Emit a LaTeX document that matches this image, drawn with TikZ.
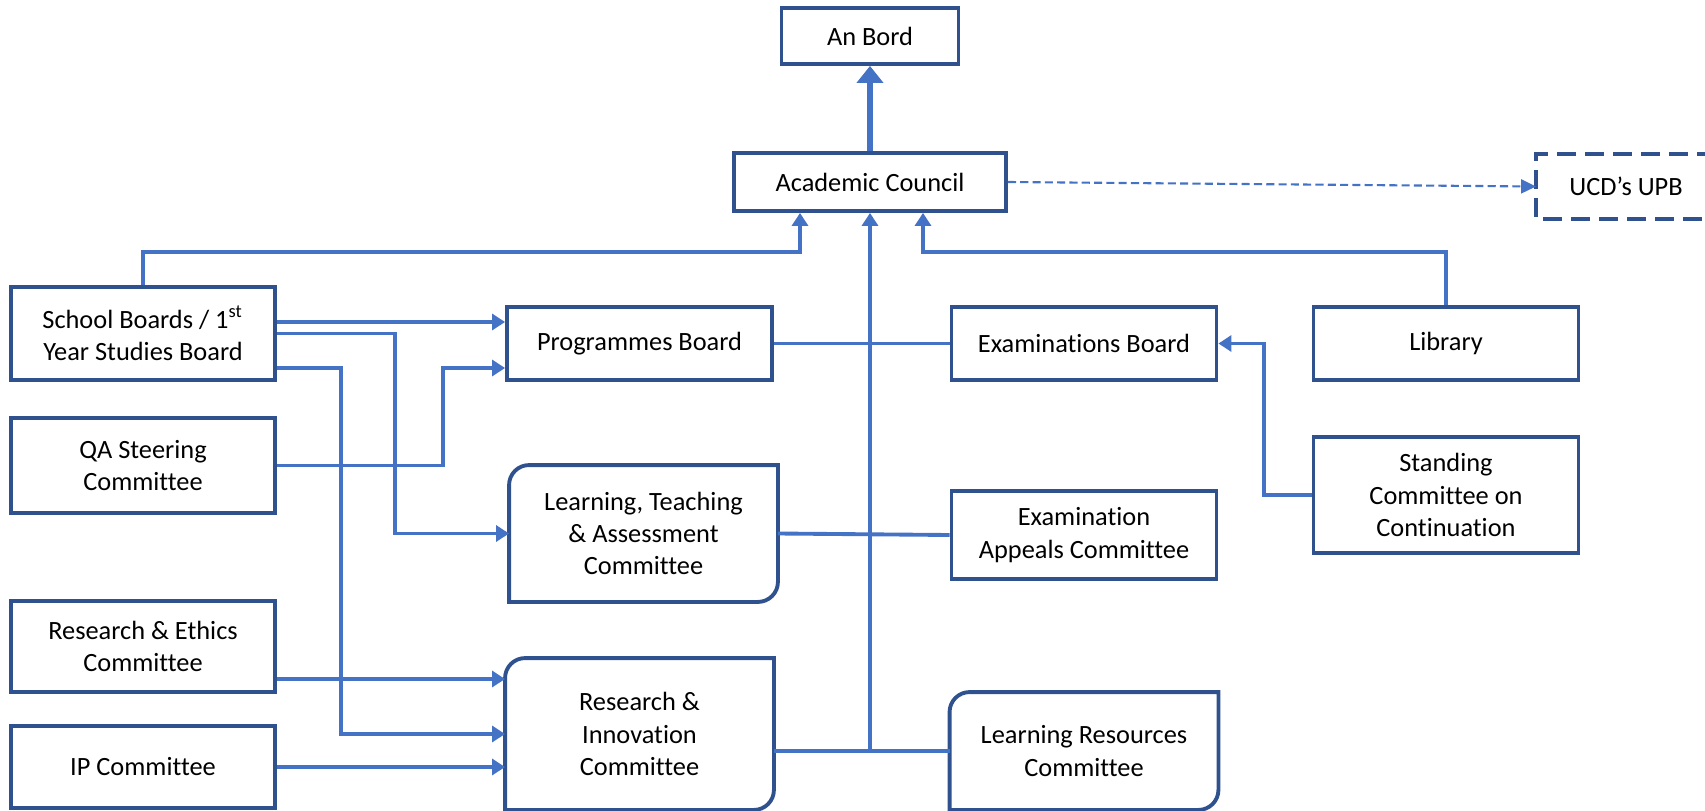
\documentclass[tikz,border=0pt]{standalone}
\usepackage{fontspec}
\setmainfont{Carlito}[Ligatures=NoCommon]
\usetikzlibrary{arrows.meta}

\definecolor{boxblue}{HTML}{2F528F}
\definecolor{linkblue}{HTML}{4472C4}

\newcommand{\cornerbox}[1]{%
  \draw[draw=boxblue, line width=1.1pt] (#1.north east) -- ([xshift=0.2cm]#1.north west)
    arc[start angle=90, end angle=180, radius=0.2cm] -- (#1.south west)
    -- ([xshift=-0.2cm]#1.south east) arc[start angle=270, end angle=360, radius=0.2cm] -- cycle;}

\begin{document}
\begin{tikzpicture}[
    unit/.style={draw=boxblue, line width=1.1pt, minimum width=2.65cm, inner sep=0pt,
      align=center, font=\fontsize{7.5}{9.2}\selectfont},
    leaf/.style={unit, draw=none},
    link/.style={draw=linkblue, line width=1.1pt},
    feed/.style={link, -{Triangle[length=0.13cm, width=0.16cm]}}
  ]
  \useasboundingbox (0,0) rectangle (17.05,8.1);

  \node[unit, minimum width=1.77cm, minimum height=0.56cm] (bord) at (8.70,7.74) {An Bord};
  \node[unit, minimum width=2.72cm, minimum height=0.58cm] (council) at (8.70,6.28) {Academic Council};
  \node[leaf, minimum width=1.76cm, minimum height=0.61cm] (upb) at (16.26,6.235) {UCD’s UPB};

  \node[unit, minimum width=2.64cm, minimum height=0.93cm] (school) at (1.43,4.765) {School Boards / 1\textsuperscript{st}\\Year Studies Board};
  \node[unit, minimum height=0.73cm] (prog) at (6.395,4.665) {Programmes Board};
  \node[unit, minimum height=0.73cm] (exam) at (10.84,4.665) {Examinations Board};
  \node[unit, minimum height=0.73cm] (library) at (14.46,4.665) {Library};

  \node[unit, minimum width=2.64cm, minimum height=0.95cm] (qa) at (1.43,3.445) {QA Steering\\Committee};
  \node[leaf, minimum height=1.33cm] (lta) at (6.435,2.765) {Learning, Teaching\\\& Assessment\\Committee};
  \node[unit, minimum height=0.88cm] (appeals) at (10.84,2.75) {Examination\\Appeals Committee};
  \node[unit, minimum height=1.16cm] (standing) at (14.46,3.15) {Standing\\Committee on\\Continuation};

  \node[unit, minimum width=2.64cm, minimum height=0.91cm] (ethics) at (1.43,1.635) {Research \& Ethics\\Committee};
  \node[leaf, minimum height=1.48cm] (innov) at (6.395,0.76) {Research \&\\Innovation\\Committee};
  \node[unit, minimum width=2.64cm, minimum height=0.82cm] (ip) at (1.43,0.43) {IP Committee};
  \node[leaf, minimum height=1.14cm] (resources) at (10.84,0.59) {Learning Resources\\Committee};

  \cornerbox{lta}
  \cornerbox{innov}
  \cornerbox{resources}
  \draw[draw=boxblue, line width=1.1pt, dash pattern=on 0.19cm off 0.09cm] (upb.north east) -- (upb.north west) -- (upb.south west) -- (upb.south east);

  \draw[link, line width=1.6pt, -{Triangle[length=0.17cm, width=0.26cm]}] (council.north) -- (bord.south);
  \draw[link, line width=0.6pt, dash pattern=on 2.3pt off 1.2pt, -{Triangle[length=0.15cm, width=0.14cm]}] (council.east) -- (upb.west);

  \draw[feed] (school.north) -- ++(0,0.33) -| ([xshift=-0.7cm]council.south);
  \draw[feed] (library.north) -- ++(0,0.53) -| ([xshift=0.53cm]council.south);
  \draw[feed] (resources.west -| council.south) -- (council.south);

  \draw[link] (prog.east) -- (exam.west);
  \draw[link] (lta.east) -- (appeals.west);
  \draw[link] (innov.east |- resources.west) -- (resources.west);

  \draw[feed] ([yshift=0.115cm]school.east) -- ([yshift=0.115cm]school.east -| prog.west);
  \draw[feed] (school.east) -- ++(1.18,0) |- (lta.west);
  \draw[feed] ([yshift=-0.345cm]school.east) -- ++(0.64,0) |- (innov.west);
  \draw[feed] (qa.east) -- ++(1.66,0) |- ([yshift=-0.245cm]prog.west);
  \draw[feed] ([yshift=-0.325cm]ethics.east) -- ([yshift=-0.325cm]ethics.east -| innov.west);
  \draw[feed] (ip.east) -- (ip.east -| innov.west);
  \draw[feed] (standing.west) -- ++(-0.48,0) |- (exam.east);
\end{tikzpicture}
\end{document}
